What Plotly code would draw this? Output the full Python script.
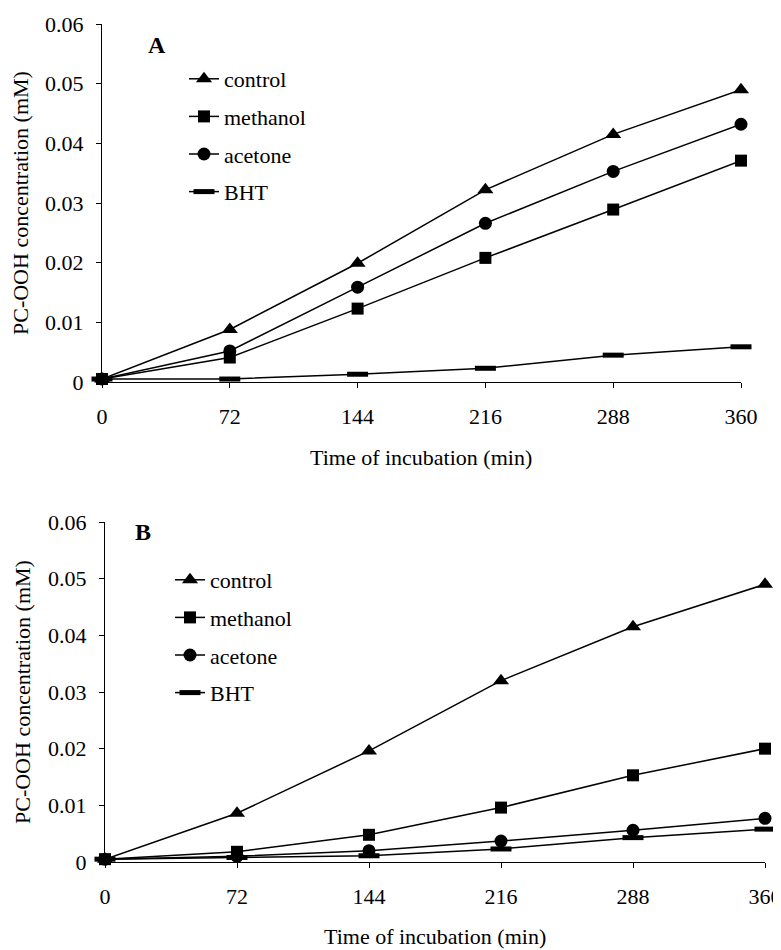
import plotly.graph_objects as go

time_min = [0, 72, 144, 216, 288, 360]
series_names = ["control", "methanol", "acetone", "BHT"]

control_a = [0.0005, 0.0088, 0.0199, 0.0322, 0.0415, 0.0490]
methanol_a = [0.0005, 0.0041, 0.0123, 0.0208, 0.0289, 0.0371]
acetone_a = [0.0005, 0.0052, 0.0159, 0.0266, 0.0353, 0.0432]
bht_a = [0.0005, 0.0005, 0.0013, 0.0023, 0.0045, 0.0059]

control_b = [0.0005, 0.0086, 0.0196, 0.0320, 0.0415, 0.0490]
methanol_b = [0.0005, 0.0018, 0.0048, 0.0096, 0.0153, 0.0200]
acetone_b = [0.0005, 0.0010, 0.0020, 0.0037, 0.0056, 0.0077]
bht_b = [0.0005, 0.0008, 0.0011, 0.0023, 0.0043, 0.0058]

x_title = "Time of incubation (min)"
y_title = "PC-OOH concentration (mM)"

# page body has an 8px default margin; figure sized to fit the window
OFF = 8
W, H = 781 - OFF, 950 - OFF
FONT = "Liberation Serif"
FS = 22

markers = {
    "control": dict(symbol="triangle-up", size=14, color="black"),
    "methanol": dict(symbol="square", size=12, color="black"),
    "acetone": dict(symbol="circle", size=13, color="black"),
    "BHT": dict(symbol="line-ew", size=15, color="black",
                line=dict(width=5, color="black")),
}

fig = go.Figure()

panels = [
    ("x", "y", "legend", [control_a, methanol_a, acetone_a, bht_a]),
    ("x2", "y2", "legend2", [control_b, methanol_b, acetone_b, bht_b]),
]
for xa, ya, lg, data in panels:
    for i, (name, vals) in enumerate(zip(series_names, data)):
        fig.add_trace(go.Scatter(
            x=time_min, y=vals, name=name, mode="lines+markers",
            line=dict(color="black", width=1.5),
            marker=markers[name], xaxis=xa, yaxis=ya, legend=lg,
            legendgroup=f"{lg}_{i}", cliponaxis=False,
        ))


def px_x(p):
    return (p - OFF) / W


def px_y(p):
    return 1 - (p - OFF) / H


axis_common = dict(
    showline=True, linecolor="black", linewidth=1,
    ticks="outside", ticklen=5, tickcolor="black", tickwidth=1,
    showgrid=False, zeroline=False, automargin=False,
    ticklabeloverflow="allow",
    tickfont=dict(family=FONT, size=FS, color="black"),
)


def label(text, x, y, size=FS, angle=0):
    return dict(text=text, x=px_x(x), y=px_y(y), xref="paper", yref="paper",
                xanchor="center", yanchor="middle", textangle=angle,
                showarrow=False, font=dict(family=FONT, size=size, color="black"))


fig.update_layout(
    width=W, height=H,
    margin=dict(l=0, r=0, t=0, b=0, autoexpand=False),
    paper_bgcolor="white", plot_bgcolor="white",
    font=dict(family=FONT, size=FS, color="black"),
    xaxis=dict(domain=[px_x(102), px_x(741)], anchor="y", range=[0, 360],
               tickvals=time_min, ticklabelstandoff=10, **axis_common),
    yaxis=dict(domain=[px_y(382), px_y(24)], anchor="x", range=[0, 0.06],
               dtick=0.01, tick0=0, ticklabelstandoff=8, **axis_common),
    xaxis2=dict(domain=[px_x(105), px_x(765)], anchor="y2", range=[0, 360],
                tickvals=time_min, ticklabelstandoff=10, **axis_common),
    yaxis2=dict(domain=[px_y(862), px_y(522)], anchor="x2", range=[0, 0.06],
                dtick=0.01, tick0=0, ticklabelstandoff=8, **axis_common),
    legend=dict(x=px_x(184), y=px_y(58), xanchor="left", yanchor="top",
                traceorder="grouped", tracegroupgap=6, bgcolor="rgba(0,0,0,0)",
                font=dict(family=FONT, size=FS, color="black")),
    legend2=dict(x=px_x(170), y=px_y(559), xanchor="left", yanchor="top",
                 traceorder="grouped", tracegroupgap=6, bgcolor="rgba(0,0,0,0)",
                 font=dict(family=FONT, size=FS, color="black")),
    showlegend=True,
    annotations=[
        label("<b>A</b>", 157, 45, size=24),
        label("<b>B</b>", 143, 532, size=24),
        label(x_title, 421, 457),
        label(x_title, 435, 936),
        label(y_title, 20, 203, angle=-90),
        label(y_title, 22, 692, angle=-90),
    ],
)

fig.write_html("out.html")
